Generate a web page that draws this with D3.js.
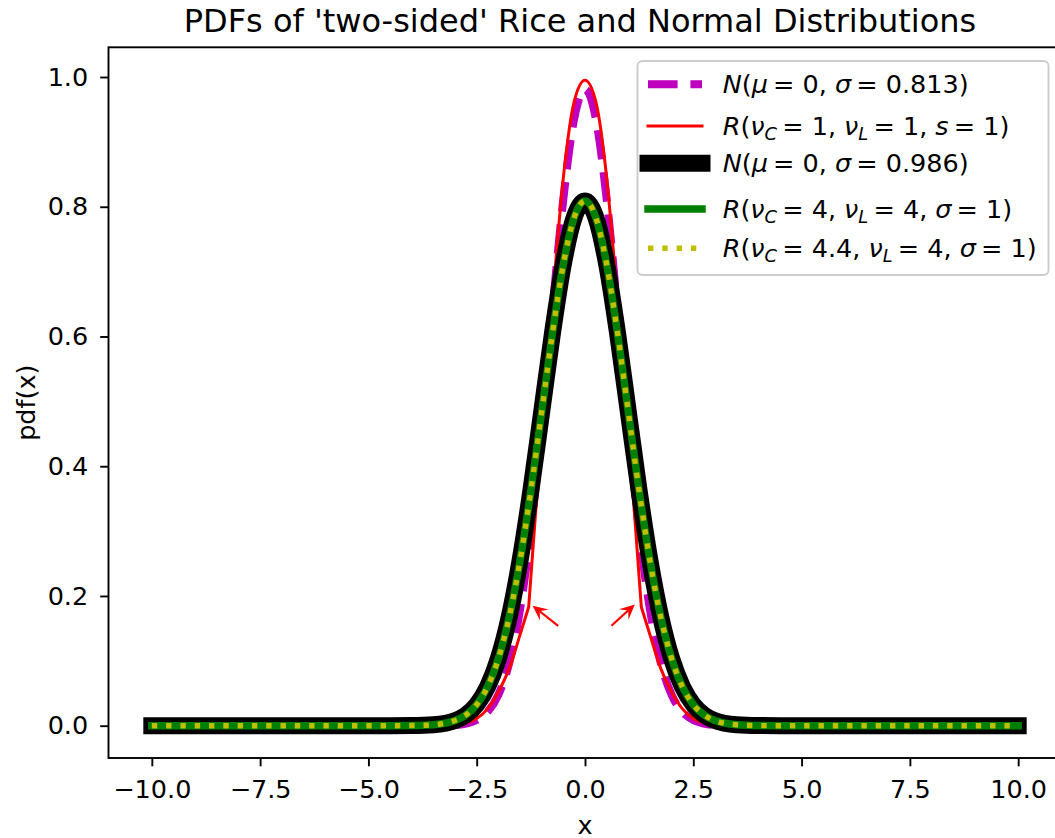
<!DOCTYPE html>
<html>
<head>
<meta charset="utf-8">
<script src="https://cdn.jsdelivr.net/npm/d3@7"></script>
<style>
  body { margin: 0; background: #fff; }
  svg { display: block; }
  text { font-family: "DejaVu Sans", sans-serif; fill: #000; }
</style>
</head>
<body>
<svg id="chart" width="1055" height="838"></svg>
<script>
// Common x grid for the normal-shaped curves
const xGrid = [-10, -8, -6, -5, -4.5, -4, -3.5, -3, -2.75, -2.5, -2.25, -2, -1.75, -1.5, -1.25, -1, -0.75, -0.5, -0.25,
  0, 0.25, 0.5, 0.75, 1, 1.25, 1.5, 1.75, 2, 2.25, 2.5, 2.75, 3, 3.5, 4, 4.5, 5, 6, 8, 10];

// N(mu=0, sigma=0.813)
const normalNarrow = [0, 0, 0, 0, 0, 0, 0.0001, 0.0011, 0.0032, 0.0087, 0.0213, 0.0476, 0.0967, 0.1789, 0.3009, 0.4604, 0.6410, 0.8120, 0.9357,
  0.981, 0.9357, 0.8120, 0.6410, 0.4604, 0.3009, 0.1789, 0.0967, 0.0476, 0.0213, 0.0087, 0.0032, 0.0011, 0.0001, 0, 0, 0, 0, 0, 0];

// N(mu=0, sigma=0.986)
const normalWide = [0, 0, 0, 0, 0, 0.0002, 0.0015, 0.0079, 0.0165, 0.0325, 0.0598, 0.1034, 0.1674, 0.2543, 0.3621, 0.4837, 0.6057, 0.7114, 0.7834,
  0.809, 0.7834, 0.7114, 0.6057, 0.4837, 0.3621, 0.2543, 0.1674, 0.1034, 0.0598, 0.0325, 0.0165, 0.0079, 0.0015, 0.0002, 0, 0, 0, 0, 0];

// R(nu_C=4, nu_L=4, sigma=1)
const riceFour = [0, 0, 0, 0, 0, 0.0002, 0.0015, 0.0079, 0.0165, 0.0325, 0.0598, 0.1034, 0.1674, 0.2543, 0.3621, 0.4837, 0.6057, 0.7114, 0.7834,
  0.809, 0.7834, 0.7114, 0.6057, 0.4837, 0.3621, 0.2543, 0.1674, 0.1034, 0.0598, 0.0325, 0.0165, 0.0079, 0.0015, 0.0002, 0, 0, 0, 0, 0];

// R(nu_C=4.4, nu_L=4, sigma=1)
const riceFourFour = [0, 0, 0, 0, 0, 0.0002, 0.0015, 0.0079, 0.0165, 0.0325, 0.0598, 0.1034, 0.1674, 0.2543, 0.3621, 0.4837, 0.6057, 0.7114, 0.7834,
  0.809, 0.7834, 0.7114, 0.6057, 0.4837, 0.3621, 0.2543, 0.1674, 0.1034, 0.0598, 0.0325, 0.0165, 0.0079, 0.0015, 0.0002, 0, 0, 0, 0, 0];

// R(nu_C=1, nu_L=1, s=1): has a corner at x = ±1.3
const riceOneX = [-10, -6, -4, -3.5, -3, -2.75, -2.5, -2.25, -2, -1.75, -1.5, -1.3, -1.15, -1, -0.75, -0.5, -0.25,
  0, 0.25, 0.5, 0.75, 1, 1.15, 1.3, 1.5, 1.75, 2, 2.25, 2.5, 2.75, 3, 3.5, 4, 6, 10];
const riceOneY = [0, 0, 0, 0.0001, 0.0012, 0.004, 0.011, 0.026, 0.052, 0.088, 0.14, 0.183, 0.32, 0.45, 0.655, 0.845, 0.962,
  0.995, 0.962, 0.845, 0.655, 0.45, 0.32, 0.183, 0.14, 0.088, 0.052, 0.026, 0.011, 0.004, 0.0012, 0.0001, 0, 0, 0];
const riceOneCorners = [-1.3, 1.3];

// Arrows marking the corners: [tail, head] in data units
const arrowTails = [[-0.62, 0.154], [0.61, 0.154]];
const arrowHeads = [[-1.21, 0.185], [1.15, 0.187]];

const xTickValues = [-10, -7.5, -5, -2.5, 0, 2.5, 5, 7.5, 10];
const yTickValues = [0, 0.2, 0.4, 0.6, 0.8, 1.0];

const legendLabels = [
  "N(μ=0, σ=0.813)",
  "R(ν_C=1, ν_L=1, s=1)",
  "N(μ=0, σ=0.986)",
  "R(ν_C=4, ν_L=4, σ=1)",
  "R(ν_C=4.4, ν_L=4, σ=1)"
];

const titleText = "PDFs of 'two-sided' Rice and Normal Distributions";
const xLabel = "x";
const yLabel = "pdf(x)";

// ---------- layout ----------
const svg = d3.select("#chart");
const plotL = 108.5, plotR = 1061.5, plotT = 47.3, plotB = 758;
const x = d3.scaleLinear().domain([-11, 11]).range([plotL, plotR]);
const y = d3.scaleLinear().domain([-0.0498, 1.0458]).range([plotB, plotT]);
const fs = 25.5;

svg.append("defs").append("clipPath").attr("id", "plotArea")
  .append("rect").attr("x", plotL).attr("y", plotT).attr("width", plotR - plotL).attr("height", plotB - plotT);

const plot = svg.append("g").attr("clip-path", "url(#plotArea)");

const line = d3.line().x(d => x(d[0])).y(d => y(d[1])).curve(d3.curveMonotoneX);
const zipXY = (xs, ys) => xs.map((v, i) => [v, ys[i]]);

const series = [
  { pts: zipXY(xGrid, normalNarrow), color: "#bf00bf", width: 8, dash: "29.6,12.8", cap: "butt" },
  { pts: zipXY(riceOneX, riceOneY), color: "#ff0000", width: 3, dash: null, cap: "square", corners: riceOneCorners },
  { pts: zipXY(xGrid, normalWide), color: "#000000", width: 17, dash: null, cap: "square" },
  { pts: zipXY(xGrid, riceFour), color: "#008000", width: 7.5, dash: null, cap: "square" },
  { pts: zipXY(xGrid, riceFourFour), color: "#bfbf00", width: 5.4, dash: "5.4,8.9", cap: "butt" }
];

function pathFor(s) {
  if (!s.corners) return line(s.pts);
  // split at the corners so each piece is smooth and the corner stays sharp
  const pieces = [];
  let cur = [];
  s.pts.forEach(p => {
    cur.push(p);
    if (s.corners.includes(p[0])) { pieces.push(cur); cur = [p]; }
  });
  pieces.push(cur);
  return pieces.map((pc, i) => {
    const d = line(pc);
    return i === 0 ? d : d.replace(/^M/, "L");
  }).join("");
}

series.forEach(s => {
  plot.append("path")
    .attr("d", pathFor(s))
    .attr("fill", "none")
    .attr("stroke", s.color)
    .attr("stroke-width", s.width)
    .attr("stroke-linecap", s.cap)
    .attr("stroke-linejoin", "round")
    .attr("stroke-dasharray", s.dash);
});

// corner arrows
arrowTails.forEach((t, i) => {
  const h = arrowHeads[i];
  const x0 = x(t[0]), y0 = y(t[1]), x1 = x(h[0]), y1 = y(h[1]);
  const len = Math.hypot(x1 - x0, y1 - y0);
  const ux = (x1 - x0) / len, uy = (y1 - y0) / len;
  const nx = -uy, ny = ux;
  const L = 15, W = 7;
  plot.append("line")
    .attr("x1", x0).attr("y1", y0)
    .attr("x2", x1 - ux * L * 0.6).attr("y2", y1 - uy * L * 0.6)
    .attr("stroke", "#ff0000").attr("stroke-width", 2.2);
  plot.append("path")
    .attr("d", `M${x1},${y1} L${x1 - ux * L + nx * W},${y1 - uy * L + ny * W} L${x1 - ux * L * 0.6},${y1 - uy * L * 0.6} L${x1 - ux * L - nx * W},${y1 - uy * L - ny * W} Z`)
    .attr("fill", "#ff0000");
});

// frame
svg.append("rect")
  .attr("x", plotL).attr("y", plotT).attr("width", plotR - plotL).attr("height", plotB - plotT)
  .attr("fill", "none").attr("stroke", "#000").attr("stroke-width", 1.9);

const fmt = v => d3.format(".1f")(v).replace("-", "\u2212");

// x axis
const xAxis = svg.append("g").attr("transform", `translate(0,${plotB})`)
  .call(d3.axisBottom(x).tickValues(xTickValues).tickFormat(fmt).tickSize(8.3).tickSizeOuter(0).tickPadding(13.5));
xAxis.select(".domain").remove();
xAxis.selectAll(".tick line").attr("stroke", "#000").attr("stroke-width", 1.9);
xAxis.selectAll(".tick text").attr("font-size", fs).attr("font-family", "DejaVu Sans").attr("fill", "#000");

// y axis
const yAxis = svg.append("g").attr("transform", `translate(${plotL},0)`)
  .call(d3.axisLeft(y).tickValues(yTickValues).tickFormat(fmt).tickSize(8.3).tickSizeOuter(0).tickPadding(12));
yAxis.select(".domain").remove();
yAxis.selectAll(".tick line").attr("stroke", "#000").attr("stroke-width", 1.9);
yAxis.selectAll(".tick text").attr("font-size", fs).attr("font-family", "DejaVu Sans").attr("fill", "#000");

// title and labels
svg.append("text").attr("x", 580).attr("y", 32)
  .attr("text-anchor", "middle").attr("font-size", 32).text(titleText);
svg.append("text").attr("x", (plotL + plotR) / 2).attr("y", 834)
  .attr("text-anchor", "middle").attr("font-size", fs).text(xLabel);
svg.append("text").attr("transform", `translate(35,${(plotT + plotB) / 2}) rotate(-90)`)
  .attr("text-anchor", "middle").attr("font-size", fs).text(yLabel);

// legend
const lg = svg.append("g");
lg.append("rect").attr("x", 637.5).attr("y", 61).attr("width", 411).attr("height", 214)
  .attr("rx", 5).attr("fill", "#fff").attr("fill-opacity", 0.8)
  .attr("stroke", "#cccccc").attr("stroke-width", 1.9);

const rowY = [84.3, 126, 163.3, 209, 248.3];

function mathLabel(sel, str) {
  const chars = Array.from(str);
  let pendingDy = 0;
  const add = (txt, italic, size, dy) => {
    const ts = sel.append("tspan").attr("font-style", italic ? "italic" : "normal").text(txt);
    if (size) ts.attr("font-size", size);
    const shift = (dy || 0) + pendingDy;
    if (shift) ts.attr("dy", shift);
    pendingDy = 0;
  };
  for (let i = 0; i < chars.length; i++) {
    const c = chars[i];
    if (c === "_") {
      const sub = chars[++i];
      add(sub, true, fs * 0.7, fs * 0.2);
      pendingDy = -fs * 0.2;
    } else if (c === "=") {
      add("\u2009= ", false);
    } else if (/[A-Za-zμσν]/.test(c)) {
      add(c, true);
    } else {
      add(c, false);
    }
  }
}

series.forEach((s, i) => {
  const ly = rowY[i];
  lg.append("line")
    .attr("x1", 648).attr("x2", 702).attr("y1", ly).attr("y2", ly)
    .attr("stroke", s.color).attr("stroke-width", s.width)
    .attr("stroke-linecap", s.cap).attr("stroke-dasharray", s.dash);
  const t = lg.append("text").attr("x", 722.7).attr("y", ly + 9).attr("font-size", fs)
    .attr("xml:space", "preserve").style("white-space", "pre");
  mathLabel(t, legendLabels[i]);
});
</script>
</body>
</html>
